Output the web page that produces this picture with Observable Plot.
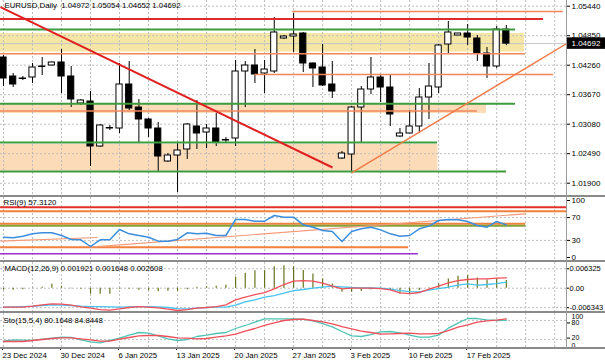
<!DOCTYPE html>
<html><head><meta charset="utf-8">
<script src="https://cdn.jsdelivr.net/npm/d3@7"></script>
<script src="https://cdn.jsdelivr.net/npm/@observablehq/plot@0.6"></script>
<style>
body{margin:0;background:#fff;}
#c{position:relative;width:605px;height:363px;overflow:hidden;font-family:"Liberation Sans",Arial,sans-serif;}
.p{position:absolute;left:0;}
.sep{position:absolute;left:0;width:605px;height:2px;background:#8a8a8a;}
.vb{position:absolute;left:566px;top:0;width:1px;height:348px;background:#9a9a9a;}
</style></head><body><div id="c"></div>
<script>
// ---------- DATA ----------
const title = "EURUSD,Daily  1.04972 1.05054 1.04652 1.04692";
const open  = [1.04414,1.04034,1.03994,1.04014,1.04234,1.04254,1.04314,1.04034,1.03494,1.03534,1.02634,1.02994,1.02994,1.03874,1.03414,1.03174,1.02994,1.02334,1.02454,1.02574,1.03034,1.02914,1.02994,1.02754,1.02794,1.04134,1.04254,1.04094,1.04134,1.04794,1.04834,1.04894,1.04294,1.04214,1.03874,1.02394,1.02474,1.03414,1.03774,1.04014,1.03814,1.02834,1.02894,1.03034,1.03614,1.03814,1.04674,1.04854,1.04894,1.04794,1.04494,1.04234,1.04972];
const high  = [1.04454,1.04094,1.04034,1.04294,1.04414,1.04324,1.04574,1.04234,1.03574,1.03734,1.03074,1.03054,1.04294,1.04334,1.03574,1.03194,1.03114,1.02494,1.02694,1.03094,1.03554,1.03074,1.03294,1.02814,1.04354,1.04334,1.04574,1.04354,1.05214,1.04854,1.05294,1.04914,1.04304,1.04674,1.04334,1.02534,1.03434,1.03834,1.04414,1.04054,1.04074,1.02994,1.03354,1.03794,1.04294,1.04674,1.05134,1.04894,1.05074,1.04854,1.04614,1.05034,1.05054];
const low   = [1.03834,1.03814,1.03954,1.03894,1.04054,1.04244,1.03694,1.03414,1.03454,1.02234,1.02614,1.02954,1.02894,1.03354,1.02714,1.02814,1.02114,1.02314,1.01714,1.02374,1.02574,1.02594,1.02634,1.02694,1.02634,1.03414,1.03894,1.03694,1.04094,1.04774,1.04514,1.04114,1.03814,1.03834,1.03594,1.02374,1.02114,1.02714,1.03674,1.03514,1.03034,1.02814,1.02884,1.02894,1.03174,1.03694,1.04474,1.04854,1.04654,1.04334,1.03994,1.04194,1.04652];
const close = [1.03994,1.03874,1.03984,1.04214,1.04224,1.04314,1.04034,1.03574,1.03554,1.02634,1.03054,1.03004,1.03874,1.03394,1.03174,1.02994,1.02434,1.02454,1.02554,1.03074,1.02894,1.02994,1.02714,1.02764,1.04134,1.04254,1.04074,1.04174,1.04914,1.04834,1.04874,1.04294,1.04194,1.03854,1.03734,1.02494,1.03414,1.03774,1.04014,1.03814,1.03274,1.02894,1.03034,1.03614,1.03834,1.04654,1.04914,1.04894,1.04814,1.04494,1.04234,1.04974,1.04692];

const priceTicks = [1.0544, 1.0485, 1.0426, 1.0367, 1.0308, 1.0249, 1.019];
const gridBars = [0,3,6,9,12,15,18,21,24,27,30,33,36,39,42,45,48,51,54,57];
const dateBars = [0,6,12,18,24,30,36,42,48];
const dateLabels = ["23 Dec 2024","30 Dec 2024","6 Jan 2025","13 Jan 2025","20 Jan 2025","27 Jan 2025","3 Feb 2025","10 Feb 2025","17 Feb 2025"];

// price panel objects (price levels, start/end bar)
const redLevels = [{price:1.05184, from:-1, to:55.84}];
const orangeLevels = [{price:1.05334, from:29.9, to:57.9},{price:1.04488, from:-1, to:53.98},{price:1.04074, from:26, to:56.88},{price:1.03344, from:-1, to:49.02}];
const greenLevels = [{price:1.04974, from:-1, to:52.95},{price:1.03488, from:-1, to:52.95},{price:1.02714, from:-1, to:44.88},{price:1.02134, from:-1, to:52.02}];
const yellowZones = [{lo:1.04524, hi:1.04894, from:-1, to:53.88}];
const orangeZones = [{lo:1.03294, hi:1.03484, from:-1, to:49.95},{lo:1.02144, hi:1.02674, from:-1, to:44.93}];
const redTrends = [{x1:-0.31, y1:1.05420, x2:34.02, y2:1.02214}];
const orangeTrends = [{x1:36, y1:1.02108, x2:58.2, y2:1.04688}];

// RSI
const rsiLabel = "RSI(9) 57.3120";
const rsi = [35.6,34.5,37.4,41.5,43.3,43.3,38.6,31.6,31.0,19.3,31.0,31.0,49.1,41.5,38.6,35.6,28.7,28.7,31.6,43.3,41.5,42.7,38.6,38.6,66.7,66.7,63.7,63.7,73.7,70.8,70.8,57.3,53.2,47.4,45.6,28.1,45.6,50.3,53.2,48.5,41.5,37.4,38.6,50.3,55.0,64.9,66.7,66.1,63.2,56.1,53.2,63.2,57.3];
const rsiTicks = [100, 70, 30, 0];
const rsiRed = [{v:88.2, from:-1, to:60}];
const rsiOrange = [{v:81.2, from:-1, to:60},{v:59.1, from:-1, to:54},{v:18.1, from:-1, to:41.9}];
const rsiOlive = [{v:55.6, from:-1, to:54}];
const rsiPurple = [{v:6.5, from:-1, to:42.9}];
const rsiTrends = [{x1:9.0, y1:18.1, x2:54, y2:76.7},{x1:-0.31, y1:28.9, x2:9.72, y2:35.1}];

// MACD
const macdLabel = "MACD(12,26,9) 0.001921 0.001648 0.002608";
const macdHist = [-0.00065,-0.00065,-0.00049,-0.00016,0.00033,0.00130,0.00065,-0.00016,-0.00033,-0.00196,-0.00196,-0.00196,-0.00033,-0.00033,-0.00065,-0.00082,-0.00114,-0.00098,-0.00098,-0.00049,0.00033,0.00049,0.00065,0.00098,0.00359,0.00489,0.00571,0.00571,0.00701,0.00734,0.00701,0.00577,0.00466,0.00303,0.00140,-0.00130,-0.00130,-0.00108,-0.00055,-0.00016,-0.00075,-0.00186,-0.00186,-0.00075,0.00016,0.00140,0.00303,0.00391,0.00414,0.00336,0.00271,0.00303,0.00251];
const macdRed = [-0.00620,-0.00620,-0.00620,-0.00587,-0.00544,-0.00511,-0.00522,-0.00554,-0.00609,-0.00652,-0.00696,-0.00717,-0.00674,-0.00630,-0.00598,-0.00620,-0.00641,-0.00685,-0.00728,-0.00696,-0.00652,-0.00630,-0.00598,-0.00544,-0.00380,-0.00293,-0.00207,-0.00141,-0.00022,0.00120,0.00228,0.00250,0.00228,0.00163,0.00065,-0.00022,0,0,0,-0.00011,-0.00054,-0.00152,-0.00174,-0.00141,-0.00033,0.00065,0.00174,0.00250,0.00283,0.00304,0.00304,0.00326,0.00337];
const macdBlue = [-0.00620,-0.00609,-0.00598,-0.00587,-0.00565,-0.00544,-0.00554,-0.00565,-0.00587,-0.00598,-0.00598,-0.00609,-0.00620,-0.00609,-0.00598,-0.00598,-0.00609,-0.00630,-0.00663,-0.00674,-0.00652,-0.00630,-0.00620,-0.00620,-0.00554,-0.00446,-0.00380,-0.00293,-0.00239,-0.00163,-0.00076,-0.00043,0,0.00033,0.00065,0.00043,0.00022,0.00011,0.00011,0,-0.00033,-0.00076,-0.00109,-0.00120,-0.00065,-0.00011,0.00033,0.00098,0.00141,0.00098,0.00120,0.00152,0.00196];
const macdTicks = [0.006325, 0, -0.006343];
const macdTickLabels = ["0.006325", "0.00", "-0.006343"];

// Stochastic
const stoLabel = "Sto(15,5,4) 80.1648 84.8448";
const stoMain = [15.1,19.3,18.2,17.2,21.4,24.5,27.6,26.6,19.3,13.0,9.9,17.2,24.5,33.9,42.2,40.1,31.8,22.4,17.2,20.3,29.7,33.9,39.1,42.2,54.7,64.1,74.5,84.9,84.9,84.9,84.9,83.9,78.6,70.3,59.9,45.3,31.8,29.7,35.9,44.3,45.3,41.1,33.9,27.6,27.6,33.9,55.7,71.4,85.9,85.9,81.8,79.7,80.2];
const stoSignal = [14.1,14.1,14.1,17.2,20.3,23.4,25.5,25.5,22.4,19.3,15.1,15.1,21.4,26.6,31.8,32.8,32.8,29.7,25.5,24.5,22.4,23.4,27.6,31.8,37.0,46.4,54.7,64.1,72.4,79.7,82.8,83.9,79.7,75.5,69.3,60.9,53.6,46.4,42.2,37.0,38.0,39.1,40.1,38.0,38.0,39.1,48.4,58.9,66.1,74.5,78.6,80.7,84.8];

// ---------- RENDER ----------
const xDomain = [-0.3102, 58.221];
const FONT = "'Liberation Sans', Arial, sans-serif";
const common = {
  width: 605, marginLeft: 0, marginRight: 39,
  style: {background: "transparent", overflow: "visible", fontFamily: FONT, fontSize: "8px", color: "#000"}
};
const gridStyle = {stroke: "#bdbdbd", strokeDasharray: "2,2", strokeWidth: 1};
const idx = open.map((_, i) => i);
const candles = idx.map(i => ({i, o: open[i], h: high[i], l: low[i], c: close[i]}));
const last = close[close.length - 1];

const container = document.getElementById("c");
function place(svg, top) {
  const d = document.createElement("div");
  d.className = "p"; d.style.top = top + "px";
  d.appendChild(svg); container.appendChild(d);
}

const pricePlot = Plot.plot({
  ...common, height: 196, marginTop: 0, marginBottom: 0,
  x: {domain: xDomain, axis: null},
  y: {domain: [1.01634, 1.05554]},
  marks: [
    Plot.rect(yellowZones, {x1: "from", x2: "to", y1: "lo", y2: "hi", fill: "#f5e6a6", clip: true}),
    Plot.rect(orangeZones, {x1: "from", x2: "to", y1: "lo", y2: "hi", fill: "#fcdbb8", clip: true}),
    Plot.ruleX(gridBars, gridStyle),
    Plot.ruleY(priceTicks, gridStyle),
    Plot.ruleY([last], {stroke: "#c4c4c4", strokeWidth: 1}),
    Plot.ruleX(candles, {x: "i", y1: "l", y2: "h", stroke: "#000", strokeWidth: 1}),
    Plot.rect(candles, {x1: d => d.i - 0.32, x2: d => d.i + 0.32, y1: "o", y2: "c",
      fill: d => d.c >= d.o ? "#ffffff" : "#000000", stroke: "#000", strokeWidth: 1}),
    Plot.ruleY(greenLevels, {y: "price", x1: "from", x2: "to", stroke: "#3e9b3e", strokeWidth: 2, clip: true}),
    Plot.ruleY(orangeLevels, {y: "price", x1: "from", x2: "to", stroke: "#f2875a", strokeWidth: 1.5, clip: true}),
    Plot.ruleY(redLevels, {y: "price", x1: "from", x2: "to", stroke: "#e02a2a", strokeWidth: 2, clip: true}),
    Plot.link(redTrends, {x1: "x1", y1: "y1", x2: "x2", y2: "y2", stroke: "#e02020", strokeWidth: 2, clip: true}),
    Plot.link(orangeTrends, {x1: "x1", y1: "y1", x2: "x2", y2: "y2", stroke: "#f27a48", strokeWidth: 1.5, clip: true}),
    Plot.text([title], {frameAnchor: "top-left", text: d => d, dx: 4, dy: 2, lineAnchor: "top", textAnchor: "start", fill: "#000", fontSize: 7.8}),
    Plot.axisY({anchor: "right", ticks: priceTicks, tickFormat: d => d.toFixed(5), tickSize: 3, tickPadding: 2, label: null, fontSize: 8}),
    Plot.rect([last], {x1: xDomain[1], x2: 62.4, y1: d => d - 0.00115, y2: d => d + 0.00115, fill: "#000"}),
    Plot.text([last], {x: xDomain[1], y: d => d, text: d => d.toFixed(5), dx: 5, textAnchor: "start", fill: "#fff", fontSize: 8})
  ]
});
place(pricePlot, 0);

const rsiPlot = Plot.plot({
  ...common, height: 63, marginTop: 0, marginBottom: 0,
  x: {domain: xDomain, axis: null},
  y: {domain: [-5.26, 105.26]},
  marks: [
    Plot.ruleX(gridBars, gridStyle),
    Plot.ruleY([70, 30], gridStyle),
    Plot.ruleY(rsiRed, {y: "v", x1: "from", x2: "to", stroke: "#e0302a", strokeWidth: 2, clip: true}),
    Plot.ruleY(rsiOrange, {y: "v", x1: "from", x2: "to", stroke: "#f0803a", strokeWidth: 2, clip: true}),
    Plot.ruleY(rsiOlive, {y: "v", x1: "from", x2: "to", stroke: "#86a03a", strokeWidth: 2, clip: true}),
    Plot.ruleY(rsiPurple, {y: "v", x1: "from", x2: "to", stroke: "#9a2fd0", strokeWidth: 1.5, clip: true}),
    Plot.link(rsiTrends, {x1: "x1", y1: "y1", x2: "x2", y2: "y2", stroke: "#f49a78", strokeWidth: 1.2, clip: true}),
    Plot.line(idx, {x: i => i, y: i => rsi[i], stroke: "#3b8ede", strokeWidth: 1.5}),
    Plot.text([rsiLabel], {frameAnchor: "top-left", text: d => d, dx: 3, dy: 2, lineAnchor: "top", textAnchor: "start", fill: "#000", fontSize: 7.8}),
    Plot.axisY({anchor: "right", ticks: rsiTicks, tickFormat: d => String(d), tickSize: 3, tickPadding: 2, label: null, fontSize: 8})
  ]
});
place(rsiPlot, 197);

const macdPlot = Plot.plot({
  ...common, height: 49, marginTop: 0, marginBottom: 0,
  x: {domain: xDomain, axis: null},
  y: {domain: [-0.0076, 0.00838]},
  marks: [
    Plot.ruleX(gridBars, gridStyle),
    Plot.ruleY(macdTicks, gridStyle),
    Plot.ruleX(idx, {x: i => i, y1: 0, y2: i => macdHist[i], stroke: "#66731c", strokeWidth: 1.2}),
    Plot.line(idx, {x: i => i, y: i => macdBlue[i], stroke: "#45c3ee", strokeWidth: 1.3}),
    Plot.line(idx, {x: i => i, y: i => macdRed[i], stroke: "#f0505a", strokeWidth: 1.3}),
    Plot.text([macdLabel], {frameAnchor: "top-left", text: d => d, dx: 4, dy: 3, lineAnchor: "top", textAnchor: "start", fill: "#000", fontSize: 7.8}),
    Plot.axisY({anchor: "right", ticks: macdTicks, tickFormat: d => macdTickLabels[macdTicks.indexOf(d)], tickSize: 2, tickPadding: 1, label: null, fontSize: 7.5})
  ]
});
place(macdPlot, 262);

const stoPlot = Plot.plot({
  ...common, height: 50, marginTop: 0, marginBottom: 16,
  x: {domain: xDomain},
  y: {domain: [-4.7, 101.6]},
  marks: [
    Plot.ruleX(gridBars, gridStyle),
    Plot.ruleY([80, 20], gridStyle),
    Plot.line(idx, {x: i => i, y: i => stoMain[i], stroke: "#4fc4b4", strokeWidth: 1.3}),
    Plot.line(idx, {x: i => i, y: i => stoSignal[i], stroke: "#ee4f5a", strokeWidth: 1.3}),
    Plot.text([stoLabel], {frameAnchor: "top-left", text: d => d, dx: 3, dy: 4, lineAnchor: "top", textAnchor: "start", fill: "#000", fontSize: 7.8}),
    Plot.axisY({anchor: "right", ticks: [80], tickFormat: d => String(d), tickSize: 3, tickPadding: 2, label: null, fontSize: 7, dy: 2.5}),
    Plot.axisY({anchor: "right", ticks: [20], tickFormat: d => String(d), tickSize: 3, tickPadding: 2, label: null, fontSize: 7, dy: -1.5}),
    Plot.text([100], {x: xDomain[1], y: d => d, text: d => String(d), dx: 5, dy: 2.5, textAnchor: "start", fill: "#000", fontSize: 7}),
    Plot.text([0], {x: xDomain[1], y: d => d, text: d => String(d), dx: 5, dy: -0.3, textAnchor: "start", fill: "#000", fontSize: 7}),
    Plot.axisX({anchor: "bottom", ticks: dateBars, tickFormat: d => dateLabels[dateBars.indexOf(d)], textAnchor: "start", tickSize: 3, tickPadding: 2, dx: -1, label: null, fontSize: 7.8})
  ]
});
place(stoPlot, 313);

// panel separators and right border
[195, 260, 311, 347].forEach(t => {
  const s = document.createElement("div"); s.className = "sep"; s.style.top = t + "px"; container.appendChild(s);
});
const vb = document.createElement("div"); vb.className = "vb"; container.appendChild(vb);
</script></body></html>
